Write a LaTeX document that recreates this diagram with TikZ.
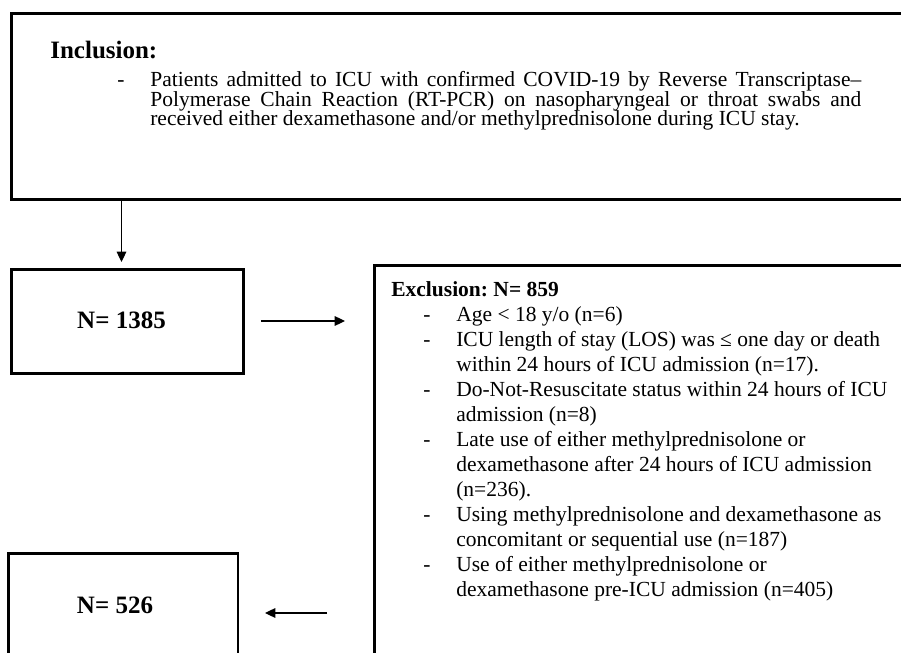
\documentclass[tikz,border=0pt]{standalone}
\usepackage{fontspec}
\setmainfont{Liberation Serif}
\usetikzlibrary{arrows.meta}
\frenchspacing
\newcommand\xitem[1]{\par\hangindent=39pt\hangafter=1\noindent\hspace*{19.2pt}\makebox[19.8pt][l]{-}#1}
\begin{document}
\begin{tikzpicture}[x=0.6pt,y=-0.6pt,
  box/.style={draw,line width=1.8pt,inner sep=0pt,rectangle},
  arr/.style={line width=0.7pt,-{Triangle[length=6.2pt,width=5.8pt]}},
  body/.style={font=\fontsize{12.9pt}{15pt}\selectfont,inner sep=0pt,anchor=base west},
  big/.style={font=\fontsize{15pt}{18pt}\selectfont\bfseries,inner sep=0pt}
]
\useasboundingbox (0,0) rectangle (901,653);
\clip (0,0) rectangle (901,653);

% boxes
\node[box,minimum width=545.4pt,minimum height=111.6pt] (top) at (465.5,106) {};
\node[box,minimum width=139.2pt,minimum height=62.4pt] (n1385) at (127,321) {};
\node[box,minimum width=333.6pt,minimum height=249pt] (excl) at (652,472.5) {};
\node[box,minimum width=137.7pt,minimum height=63.6pt] (n526) at (123.25,606) {};

% texts
\node[big,anchor=base west] (tinc) at (50,58) {Inclusion:};
\node[body] (tincl) at (117,86.7)
 {\parbox[t]{446.4pt}{\fontsize{12.9pt}{11.7pt}\selectfont\lineskiplimit=-20pt\hyphenpenalty=10000
 \hangindent=19.8pt\hangafter=1\noindent\makebox[19.8pt][l]{-}Patients admitted to ICU with confirmed COVID-19 by Reverse Transcriptase\textendash\linebreak Polymerase Chain Reaction (RT-PCR) on nasopharyngeal or throat swabs and\linebreak received either dexamethasone and/or methylprednisolone during ICU stay.}};

\node[big] (t1385) at (121.5,320.5) {N= 1385};
\node[big] (t526) at (115,605.5) {N= 526};

\node[body] (texcl) at (391,296.5)
 {\parbox[t]{310pt}{\fontsize{12.9pt}{15pt}\selectfont\lineskiplimit=-20pt\hyphenpenalty=10000
 \noindent\textbf{Exclusion: N= 859}
 \xitem{Age < 18 y/o (n=6)}
 \xitem{ICU length of stay (LOS) was ≤ one day or death\newline within 24 hours of ICU admission (n=17).}
 \xitem{Do-Not-Resuscitate status within 24 hours of ICU\newline admission (n=8)}
 \xitem{Late use of either methylprednisolone or\newline dexamethasone after 24 hours of ICU admission\newline (n=236).}
 \xitem{Using methylprednisolone and dexamethasone as\newline concomitant or sequential use (n=187)}
 \xitem{Use of either methylprednisolone or\newline dexamethasone pre-ICU admission (n=405)}}};

% connectors
\coordinate (ra) at (0,321);
\coordinate (la) at (0,613);
\draw[arr,shorten >=3.3pt] (top.south -| t1385.center) -- (n1385.north -| t1385.center);
\draw[arr,shorten <=9.9pt,shorten >=16.5pt] (n1385.east |- ra) -- (excl.west |- ra);
\draw[arr,shorten <=27.3pt,shorten >=15.3pt] (excl.west |- la) -- (n526.east |- la);
\end{tikzpicture}
\end{document}
